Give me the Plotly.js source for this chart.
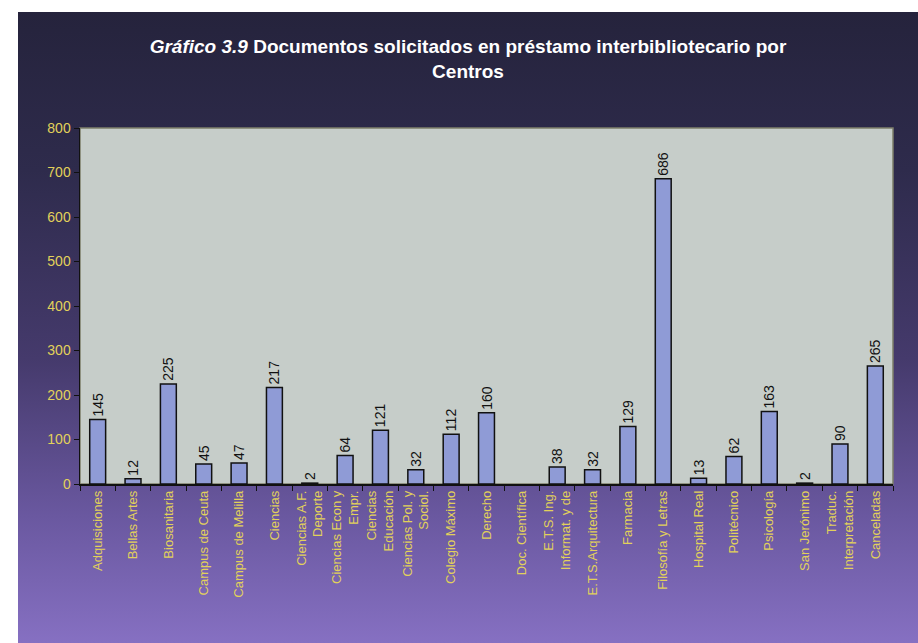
<!DOCTYPE html>
<html>
<head>
<meta charset="utf-8">
<script src="https://cdn.plot.ly/plotly-3.0.1.min.js"></script>
<style>
  html, body { margin: 0; padding: 0; background: #ffffff; }
  #myDiv {
    position: absolute; left: 18px; top: 12px; width: 900px; height: 631px;
    background: linear-gradient(to bottom, #25233c 0%, #2e2b4c 25%, #453a6c 55%, #6a58a0 80%, #8670c2 100%);
  }
</style>
</head>
<body>
<div id="myDiv"></div>
<script>
// centros (etiquetas del eje x, con los saltos de linea del original)
var centros = [
  'Adquisiciones', 'Bellas Artes', 'Biosanitaria', 'Campus de Ceuta', 'Campus de Melilla',
  'Ciencias', 'Ciencias A.F.<br>Deporte', 'Ciencias Econ y<br>Empr.', 'Ciencias<br>Educación',
  'Ciencias Pol. y<br>Sociol.', 'Colegio Máximo', 'Derecho', 'Doc. Científica',
  'E.T.S. Ing.<br>Informat. y de', 'E.T.S.Arquitectura', 'Farmacia', 'Filosofía y Letras',
  'Hospital Real', 'Politécnico', 'Psicología', 'San Jerónimo', 'Traduc.<br>Interpretación',
  'Canceladas'
];

// documentos solicitados (Doc. Científica sin dato)
var documentos = [145, 12, 225, 45, 47, 217, 2, 64, 121, 32, 112, 160, null,
                  38, 32, 129, 686, 13, 62, 163, 2, 90, 265];

var yTicks = [0, 100, 200, 300, 400, 500, 600, 700, 800];

var barras = {
  x: centros,
  y: documentos,
  type: 'bar',
  text: documentos.map(function (v) { return v === null ? '' : String(v); }),
  textposition: 'outside',
  textangle: -90,
  constraintext: 'none',
  cliponaxis: false,
  textfont: { family: 'Liberation Sans, Arial, sans-serif', size: 14, color: '#111111' },
  marker: {
    color: '#8f9bd6',
    line: { color: '#111111', width: 1.5 }
  },
  hoverinfo: 'x+y'
};

var layout = {
  width: 900,
  height: 631,
  paper_bgcolor: 'rgba(0,0,0,0)',
  plot_bgcolor: '#c6cdc9',
  margin: { l: 62, r: 25, t: 116, b: 159 },
  showlegend: false,
  bargap: 0.55,
  title: {
    text: '<i>Gráfico 3.9</i> Documentos solicitados en préstamo interbibliotecario por<br>Centros',
    font: { family: 'Liberation Sans, Arial, sans-serif', size: 19, color: '#ffffff', weight: 'bold' },
    x: 0.5,
    xanchor: 'center',
    y: 0.935,
    yanchor: 'top'
  },
  xaxis: {
    type: 'category',
    tickangle: -90,
    tickson: 'boundaries',
    ticks: 'outside',
    ticklen: 5,
    tickcolor: '#111111',
    showline: true,
    linecolor: '#111111',
    linewidth: 1.5,
    showgrid: false,
    tickfont: { family: 'Liberation Sans, Arial, sans-serif', size: 13, color: '#e2d15a' },
    automargin: false
  },
  yaxis: {
    range: [0, 800],
    tickvals: yTicks,
    ticks: 'outside',
    ticklen: 5,
    tickcolor: '#111111',
    showline: true,
    linecolor: '#111111',
    linewidth: 1.5,
    showgrid: false,
    zeroline: false,
    tickfont: { family: 'Liberation Sans, Arial, sans-serif', size: 14, color: '#e2d15a' },
    automargin: false
  },
  shapes: [{
    type: 'rect', xref: 'paper', yref: 'paper', x0: 0, x1: 1, y0: 0, y1: 1,
    line: { color: '#7d7f6a', width: 1.5 }, layer: 'below'
  }]
};

Plotly.newPlot('myDiv', [barras], layout, { displayModeBar: false, staticPlot: true });
</script>
</body>
</html>
